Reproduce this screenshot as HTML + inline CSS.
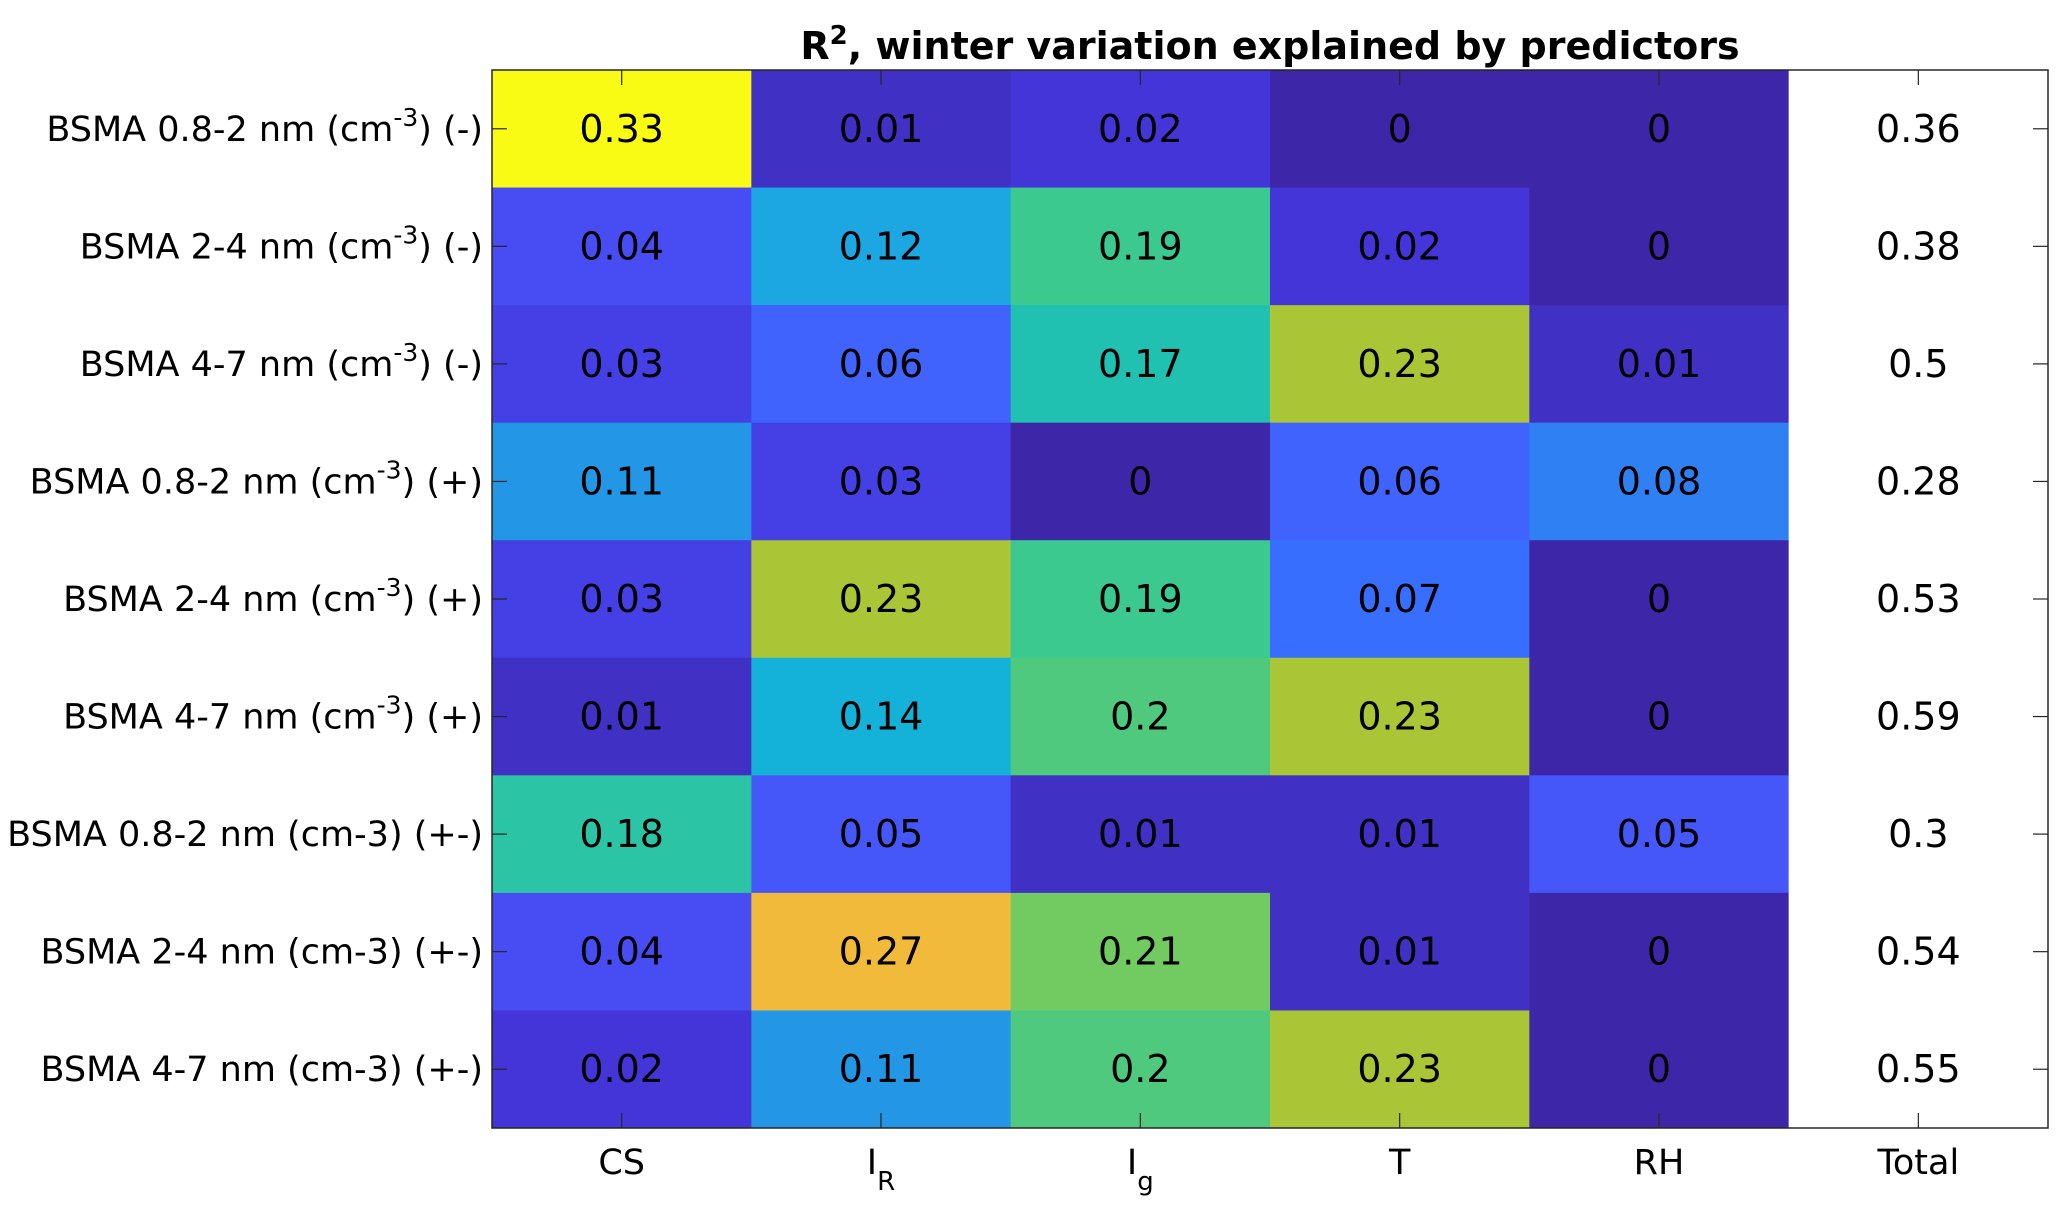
<!DOCTYPE html>
<html><head><meta charset="utf-8"><style>
html,body{margin:0;padding:0;background:#fff;}
svg{display:block;font-family:"DejaVu Sans","Liberation Sans",sans-serif;}
</style></head><body>
<svg id="chart" width="2067" height="1211" viewBox="0 0 2067 1211" xmlns="http://www.w3.org/2000/svg">
<text x="1270" y="59" text-anchor="middle" font-size="38" font-weight="bold" fill="#000">R<tspan dy="-15" font-size="26">2</tspan><tspan dy="15">, winter variation explained by predictors</tspan></text>
<g id="cells"></g><g id="ticks"></g><g id="labels"></g>
</svg>
<script>
const rowLabels = ["BSMA 0.8-2 nm (cm^-3) (-)","BSMA 2-4 nm (cm^-3) (-)","BSMA 4-7 nm (cm^-3) (-)","BSMA 0.8-2 nm (cm^-3) (+)","BSMA 2-4 nm (cm^-3) (+)","BSMA 4-7 nm (cm^-3) (+)","BSMA 0.8-2 nm (cm-3) (+-)","BSMA 2-4 nm (cm-3) (+-)","BSMA 4-7 nm (cm-3) (+-)"];
const colLabels = ["CS","I_R","I_g","T","RH","Total"];
const colCS = [0.33,0.04,0.03,0.11,0.03,0.01,0.18,0.04,0.02];
const colIR = [0.01,0.12,0.06,0.03,0.23,0.14,0.05,0.27,0.11];
const colIg = [0.02,0.19,0.17,0,0.19,0.2,0.01,0.21,0.2];
const colT = [0,0.02,0.23,0.06,0.07,0.23,0.01,0.01,0.23];
const colRH = [0,0,0.01,0.08,0,0,0.05,0,0];
const colTotal = [0.36,0.38,0.5,0.28,0.53,0.59,0.3,0.54,0.55];
const cmin = 0, cmax = 0.33;

const L=492,R=2048,T=70,B=1128;
const colsData=[colCS,colIR,colIg,colT,colRH];
const nC=colLabels.length,nR=rowLabels.length;
const cw=(R-L)/nC,rh=(B-T)/nR;
const xOf=i=>L+i*cw, yOf=j=>T+j*rh;
const stops=[[0,[62,38,168]],[0.03,[65,48,196]],[0.06,[67,53,216]],[0.09,[69,64,229]],[0.12,[71,77,242]],[0.15,[69,86,248]],[0.18,[63,98,252]],[0.21,[56,109,254]],[0.24,[47,127,243]],[0.33,[36,148,230]],[0.36,[30,166,227]],[0.42,[19,176,218]],[0.52,[33,194,174]],[0.545,[43,197,166]],[0.576,[59,201,143]],[0.606,[79,201,126]],[0.636,[114,203,97]],[0.697,[170,197,54]],[0.818,[241,186,58]],[0.9,[250,210,45]],[1,[249,251,21]]];
function cmap(v){let t=Math.max(0,Math.min(1,(v-cmin)/(cmax-cmin)));
 for(let k=1;k<stops.length;k++){if(t<=stops[k][0]){const a=stops[k-1],b=stops[k];const f=(t-a[0])/(b[0]-a[0]);
  return 'rgb('+a[1].map((c,i)=>Math.round(c+(b[1][i]-c)*f)).join(',')+')';}}
 return 'rgb(249,251,21)';}
const NS='http://www.w3.org/2000/svg';
function mk(tag,attrs,parent){const e=document.createElementNS(NS,tag);for(const k in attrs)e.setAttribute(k,attrs[k]);parent.appendChild(e);return e;}
const gC=document.getElementById('cells'),gT=document.getElementById('ticks'),gL=document.getElementById('labels');
for(let j=0;j<nR;j++){
 for(let i=0;i<nC;i++){
  const v=i<5?colsData[i][j]:colTotal[j];
  const r=mk('rect',{x:xOf(i),y:yOf(j),width:cw+0.5,height:rh+0.5,fill:i<5?cmap(v):'#fff'},gC);
  
  
  const t=mk('text',{x:xOf(i)+cw/2,y:yOf(j)+rh/2+13,'text-anchor':'middle','font-size':38,fill:'#000'},gC);
  t.textContent=String(v);
  
  
 }
}
const box=mk('rect',{x:L,y:T,width:R-L,height:B-T,fill:'none',stroke:'#262626','stroke-width':1.5},gT);


for(let i=0;i<nC;i++){const x=xOf(i)+cw/2;
 mk('line',{x1:x,y1:T,x2:x,y2:T+15,stroke:'#262626','stroke-width':1.2},gT);
 mk('line',{x1:x,y1:B,x2:x,y2:B-15,stroke:'#262626','stroke-width':1.2},gT);
 const lab=colLabels[i];const t=mk('text',{x:x,y:B+46,'text-anchor':'middle','font-size':35,fill:'#000'},gL);
 if(lab.includes('_')){const p=lab.split('_');t.textContent=p[0];const s=mk('tspan',{dy:16,'font-size':26},t);s.textContent=p[1];}
 else t.textContent=lab;
 
 
}
for(let j=0;j<nR;j++){const y=yOf(j)+rh/2;
 mk('line',{x1:L,y1:y,x2:L+15,y2:y,stroke:'#262626','stroke-width':1.2},gT);
 mk('line',{x1:R,y1:y,x2:R-15,y2:y,stroke:'#262626','stroke-width':1.2},gT);
 const lab=rowLabels[j];const t=mk('text',{x:483,y:y+12,'text-anchor':'end','font-size':35,fill:'#000'},gL);
 if(lab.includes('^')){const m=lab.match(/^(.*cm)\^(-3)(.*)$/);t.appendChild(document.createTextNode(m[1]));
  const s=mk('tspan',{dy:-15,'font-size':25},t);s.textContent=m[2];const r=mk('tspan',{dy:15},t);r.textContent=m[3];}
 else t.textContent=lab;
 
 
}
</script>
</body></html>
